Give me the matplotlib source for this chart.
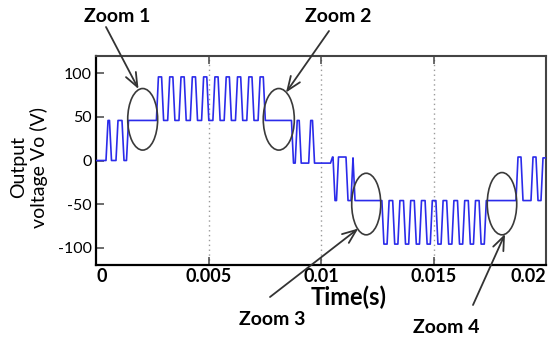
import matplotlib
matplotlib.use("Agg")
import matplotlib.pyplot as plt
from matplotlib.patches import Ellipse

plt.rcParams['font.family'] = ['Lato', 'DejaVu Sans']

# ---- data ----
# switching instants (s) and the level (V) reached after each switch
pos_half_times = [0.000489, 0.000644, 0.000933, 0.0012, 0.0014,
                  0.002729, 0.00296, 0.003231, 0.003462, 0.003733, 0.003964,
                  0.004236, 0.004467, 0.004738, 0.004969, 0.00524, 0.005471,
                  0.005742, 0.005973, 0.006244, 0.006476, 0.006747, 0.006978,
                  0.007249, 0.00748,
                  0.008733, 0.008898, 0.009076, 0.009498, 0.009667]
pos_half_levels = [46, 0, 46, 0, 46,
                   96, 46, 96, 46, 96, 46,
                   96, 46, 96, 46, 96, 46,
                   96, 46, 96, 46, 96, 46,
                   96, 46,
                   -3, 46, -3, 46, -3]
neg_half_times = [0.010467, 0.010578, 0.010733, 0.011156, 0.011378, 0.011467,
                  0.012751, 0.012982, 0.013231, 0.013462, 0.013711, 0.013942,
                  0.014191, 0.014422, 0.014671, 0.014902, 0.015151, 0.015382,
                  0.015631, 0.015862, 0.016111, 0.016342, 0.016591, 0.016822,
                  0.017071, 0.017302,
                  0.018711, 0.018933, 0.019378, 0.0196, 0.019822]
neg_half_levels = [4, -46, 4, -46, 3, -46,
                   -96, -46, -96, -46, -96, -46,
                   -96, -46, -96, -46, -96, -46,
                   -96, -46, -96, -46, -96, -46,
                   -96, -46,
                   4, -46, 4, -46, 3]
t_end = 0.02
start_level = 0

# zoom ellipses: centre time, centre voltage, width (s), height (V)
zoom_ell_t = [0.002075, 0.008124, 0.01201, 0.018044]
zoom_ell_v = [47.3, 47.3, -50.0, -49.6]
zoom_ell_w = [0.00133, 0.00138, 0.00129, 0.00131]
zoom_ell_h = [70.7, 70.7, 70.7, 71.5]
zoom_labels = ['Zoom 1', 'Zoom 2', 'Zoom 3', 'Zoom 4']

x_ticks = [0, 0.005, 0.01, 0.015, 0.02]
x_tick_labels = ['0', '0.005', '0.01', '0.015', '0.02']
y_ticks = [-100, -50, 0, 50, 100]
y_tick_labels = ['-100', '-50', '0', '50', '100']

# ---- build the stepped waveform with a finite slew ----
slew = 0.00009
sw_t = pos_half_times + neg_half_times
sw_v = pos_half_levels + neg_half_levels
tt = [0.0]
vv = [start_level]
prev = start_level
for t, v in zip(sw_t, sw_v):
    tt += [t - slew / 2, t + slew / 2]
    vv += [prev, v]
    prev = v
tt.append(t_end)
vv.append(prev)

W, H = 550, 341
fig = plt.figure(figsize=(W / 100, H / 100), dpi=100)
ax = fig.add_axes([96 / W, 1 - 265 / H, 450 / W, 209 / H])

ax.plot(tt, vv, color='#2b2bea', lw=1.2, zorder=3)

for ct, cv, w, h in zip(zoom_ell_t, zoom_ell_v, zoom_ell_w, zoom_ell_h):
    ax.add_patch(Ellipse((ct, cv), w, h, fill=False, edgecolor='#3a3a3a',
                         lw=1.2, zorder=4))

ax.set_xlim(0, 0.02)
ax.set_ylim(-120, 120)
ax.set_xticks(x_ticks)
ax.set_xticklabels(x_tick_labels, fontsize=13, fontweight='bold')
ax.set_yticks(y_ticks)
ax.set_yticklabels(y_tick_labels, fontsize=11.5)
xl = ax.get_xticklabels()
xl[0].set_horizontalalignment('left')
xl[-1].set_horizontalalignment('right')
ax.tick_params(axis='x', direction='in', top=True, length=6, width=1.1,
               color='#444444', pad=2)
ax.tick_params(axis='y', direction='in', right=False, length=6, width=1.1,
               color='#444444', pad=3)
for gx in x_ticks[1:-1]:
    ax.axvline(gx, color='#9a9a9a', lw=1.0, ls=(0, (1, 2.5)), zorder=1)

for s in ['left', 'bottom']:
    ax.spines[s].set_linewidth(1.6)
    ax.spines[s].set_color('black')
for s in ['top', 'right']:
    ax.spines[s].set_linewidth(1.5)
    ax.spines[s].set_color('#444444')

def fx(x):
    return x / W

def fy(y):
    return 1 - y / H

# zoom labels (image pixel positions, baseline)
label_pos = [(117.3, 21.7), (338.3, 21.7), (272.5, 325), (446.7, 333)]
for (px, py), lab in zip(label_pos, zoom_labels):
    fig.text(fx(px), fy(py), lab, ha='center', va='baseline',
             fontsize=14, fontweight='bold')

# arrows: start -> tip in image pixels
arrows = [((106, 27), (138.5, 89)), ((329, 31), (286, 92.5)),
          ((270, 297), (358.3, 228.5)), ((473, 305), (505, 234))]
for (sx, sy), (ex, ey) in arrows:
    fig.add_artist(matplotlib.patches.FancyArrowPatch(
        (fx(sx), fy(sy)), (fx(ex), fy(ey)), transform=fig.transFigure,
        arrowstyle='->,head_length=10,head_width=4', mutation_scale=1,
        lw=1.3, color='#333333', shrinkA=0, shrinkB=0, zorder=5))

fig.text(fx(348.3), fy(305), 'Time(s)', ha='center', va='baseline',
         fontsize=17, fontweight='bold')
fig.text(fx(29), fy(167), 'Output\nvoltage Vo (V)', rotation=90,
         ha='center', va='center', multialignment='center', fontsize=14,
         linespacing=1.15)

fig.savefig('out.png', dpi=100)
